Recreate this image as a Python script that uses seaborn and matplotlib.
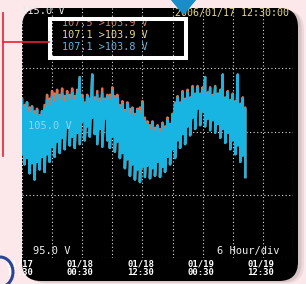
import numpy as np
import pandas as pd
import matplotlib
matplotlib.use("Agg")
import matplotlib.pyplot as plt
import matplotlib.transforms as mtransforms
from matplotlib.patches import FancyBboxPatch, Polygon, Rectangle, Arc
import seaborn as sns

# voltage log, one max/min pair every 30 minutes from 2006/01/17 12:30
start = pd.Timestamp("2006-01-17 12:30")
cyan_hi = [107.5, 106.9, 107.3, 106.5, 106.9, 106.3, 106.7, 106.2, 106.6, 106.8,
           107.5, 107.0, 107.8, 107.3, 107.9, 107.4, 108.0, 107.3, 107.9, 107.5,
           108.1, 107.4, 108.0, 109.3, 107.6, 107.2, 107.8, 107.3, 109.5, 107.5,
           107.9, 107.3, 108.0, 107.4, 107.8, 107.5, 108.2, 107.6, 107.7, 106.9,
           107.1, 106.5, 107.2, 106.4, 106.8, 106.2, 106.7, 106.3, 107.2, 105.9,
           105.6, 105.1, 105.7, 105.0, 105.4, 104.9, 105.6, 105.2, 105.9, 105.5,
           106.3, 107.2, 107.7, 107.2, 108.0, 107.5, 108.1, 107.6, 108.4, 107.9,
           108.5, 107.9, 108.3, 109.3, 108.0, 108.4, 107.8, 108.5, 107.9, 108.2,
           109.5, 107.6, 108.1, 107.4, 107.9, 107.3, 109.5, 107.1, 107.6, 106.8]
cyan_lo = [103.2, 102.4, 102.9, 101.7, 102.5, 101.2, 102.6, 102.0, 103.0, 101.8,
           103.2, 102.6, 103.8, 103.0, 104.2, 103.3, 104.5, 103.6, 105.3, 103.9,
           104.6, 103.7, 104.9, 104.0, 105.8, 104.3, 105.4, 104.6, 106.1, 104.8,
           104.0, 105.2, 103.8, 106.0, 104.3, 103.7, 104.6, 103.4, 104.2, 102.9,
           103.3, 102.1, 102.8, 101.5, 102.4, 101.2, 102.0, 101.0, 102.2, 101.4,
           102.3, 101.3, 102.1, 101.5, 102.6, 101.4, 102.2, 101.8, 103.0, 102.4,
           103.6, 102.9, 104.3, 103.7, 104.8, 104.0, 105.4, 104.7, 106.1, 105.2,
           106.8, 105.5, 106.6, 105.4, 106.0, 105.1, 105.9, 104.9, 105.6, 104.5,
           105.2, 104.1, 104.9, 103.6, 104.3, 103.2, 103.9, 102.6, 103.1, 101.4]
orange_hi = [107.6, 107.1, 107.3, 106.9, 107.0, 106.6, 106.8, 106.3, 106.6, 107.1,
             107.9, 107.6, 108.2, 108.0, 108.3, 107.9, 108.4, 107.8, 108.2, 107.9,
             108.4, 107.8, 108.3, 109.3, 107.9, 107.3, 107.9, 107.6, 109.5, 107.7,
             108.2, 107.6, 108.4, 107.6, 107.9, 107.9, 108.5, 107.8, 107.9, 107.1,
             107.4, 106.7, 107.3, 106.8, 106.9, 106.4, 106.8, 106.9, 107.4, 106.1,
             105.8, 105.5, 105.8, 105.3, 105.5, 105.2, 105.7, 105.4, 106.1, 105.6,
             106.4, 107.3, 107.8, 107.3, 108.2, 107.6, 108.3, 107.7, 108.6, 108.0,
             108.6, 108.0, 108.5, 109.3, 108.1, 108.5, 107.9, 108.6, 108.0, 108.3,
             109.5, 107.7, 108.2, 107.5, 108.0, 107.4, 109.5, 107.2, 107.7, 106.9]

times = pd.date_range(start, periods=len(cyan_hi), freq="30min")

readouts = ["107.5 >103.9 V", "107.1 >103.9 V", "107.1 >103.8 V"]
readout_colors = ["#d9805e", "#e6d98c", "#62b9df"]
tick_hours = [0, 12, 24, 36, 48]
tick_labels = ["01/17\n12:30", "01/18\n00:30", "01/18\n12:30", "01/19\n00:30", "01/19\n12:30"]
grid_hours = list(range(0, 55, 6))
grid_volts = [95, 100, 105, 110, 115]

MONO = "DejaVu Sans Mono"


def zigzag(hi, lo):
    # scope style trace: max then min for every sample
    return pd.DataFrame({"time": times.repeat(2),
                         "volt": np.column_stack([hi, lo]).ravel()})


fig = plt.figure(figsize=(3.06, 2.84), dpi=100)
fig.patch.set_facecolor("#fce8ea")
# pixel coords, origin top-left
pix = mtransforms.Affine2D().scale(0.01, -0.01).translate(0, 2.84) + fig.dpi_scale_trans

# screen body + soft shadow
for dx, a in [(0.06, 0.10), (0.035, 0.16)]:
    sh = FancyBboxPatch((0.22 + dx, 0.03 - dx * 0.4), 2.76, 2.73,
                        boxstyle="round,pad=0,rounding_size=0.19",
                        transform=fig.dpi_scale_trans, fc="#6a5a5a", ec="none",
                        alpha=a, zorder=-6)
    fig.add_artist(sh)
screen = FancyBboxPatch((0.22, 0.03), 2.76, 2.73,
                        boxstyle="round,pad=0,rounding_size=0.19",
                        transform=fig.dpi_scale_trans, fc="black", ec="none", zorder=-5)
fig.add_artist(screen)

ax = fig.add_axes([22 / 306, 1 - 258 / 284, (293 - 22) / 306, (258 - 5) / 284])
ax.patch.set_visible(False)

sns.lineplot(data=zigzag(orange_hi, cyan_lo), x="time", y="volt", sort=False,
             estimator=None, color="#dc7050", linewidth=1.8, ax=ax)
sns.lineplot(data=zigzag(cyan_hi, cyan_lo), x="time", y="volt", sort=False,
             estimator=None, color="#18b5e3", linewidth=1.8, ax=ax)

for h in grid_hours:
    ax.axvline(start + pd.Timedelta(hours=h), color="#dcdcdc", lw=0.8,
               ls=(0, (1, 2.2)), zorder=0)
for v in grid_volts:
    ax.axhline(v, color="#dcdcdc", lw=0.8, ls=(0, (1, 2.2)), zorder=0)

ax.set_xlim(start, start + pd.Timedelta(hours=54))
ax.set_ylim(95, 115)
ax.set_xlabel("")
ax.set_ylabel("")
ax.set_yticks([])
ax.set_xticks([start + pd.Timedelta(hours=h) for h in tick_hours], tick_labels)
ax.tick_params(axis="x", length=0, pad=1.0, colors="white", labelsize=6.5)
for s in ax.spines.values():
    s.set_visible(False)

for line in ax.get_lines():
    line.set_clip_path(screen)

shift = mtransforms.ScaledTranslation(-2 / 100, 0, fig.dpi_scale_trans)
for lbl in ax.get_xticklabels():
    lbl.set_fontfamily(MONO)
    lbl.set_fontweight("bold")
    lbl.set_linespacing(0.95)
    lbl.set_transform(lbl.get_transform() + shift)
    lbl.set_clip_on(True)
    lbl.set_clip_path(screen)


def screen_text(x, y, s, color, size=7.5, **kw):
    t = fig.text(x, y, s, transform=pix, color=color, fontsize=size,
                 family=MONO, va="center", **kw)
    t.set_clip_on(True)
    t.set_clip_path(screen)
    return t


screen_text(21, 11.5, "115.0 V", "#e8e8e8")
screen_text(175, 13, "2006/01/17 12:30:00", "#e6d98c", size=7.2)
screen_text(33, 251, "95.0 V", "#f0f0f0")
screen_text(217, 251, "6 Hour/div", "#f0f0f0")
screen_text(28, 126, "105.0 V", "#e6f6fb", alpha=0.55)
for i, (txt, c) in enumerate(zip(readouts, readout_colors)):
    screen_text(62, 23.5 + 12 * i, txt, c, size=7.3)

# call-out overlay
fig.add_artist(Rectangle((50, 19), 136, 39, transform=pix, fill=False,
                         ec="white", lw=2.9, zorder=10))
fig.add_artist(plt.Line2D([3, 3], [13, 156], transform=pix, color="#e8202a", lw=1.2, zorder=10))
fig.add_artist(plt.Line2D([3, 49], [42, 42], transform=pix, color="#e8202a", lw=1.2, zorder=10))
fig.add_artist(Polygon([(170, -1), (197, -1), (183.5, 15)], closed=True, transform=pix,
                       fc="#1a8cc8", ec="none", zorder=10))
fig.add_artist(Arc((0, 272), 26, 30, theta1=-90, theta2=90, transform=pix,
                   color="#2b4596", lw=2.2, zorder=10))
fig.add_artist(Arc((188, 294), 34, 28, theta1=90, theta2=175, transform=pix,
                   color="#1a9ad0", lw=1.8, zorder=10))

fig.savefig("out.png", dpi=100, facecolor=fig.get_facecolor())
